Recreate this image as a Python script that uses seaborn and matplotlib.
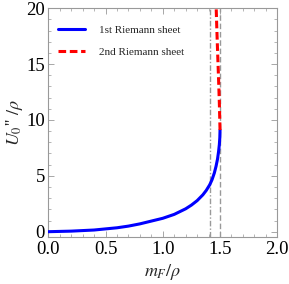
import numpy as np
import pandas as pd
import matplotlib
matplotlib.use("Agg")
import matplotlib.pyplot as plt
import seaborn as sns
from matplotlib.ticker import MultipleLocator

# data
x_first = [0.0, 0.2, 0.4, 0.6, 0.7, 0.8, 0.9, 1.0, 1.1, 1.2, 1.25, 1.3, 1.35, 1.38, 1.41,
           1.43, 1.45, 1.465, 1.478, 1.487, 1.494, 1.498, 1.5]
y_first = [0.0, 0.05, 0.15, 0.35, 0.5, 0.7, 0.95, 1.2, 1.55, 2.05, 2.38, 2.78, 3.3, 3.7, 4.2,
           4.65, 5.25, 5.85, 6.5, 7.15, 7.8, 8.4, 9.1]
x_second = [1.5, 1.497, 1.494, 1.49, 1.485, 1.478, 1.47, 1.465]
y_second = [9.1, 10.3, 11.5, 12.8, 14.3, 16.3, 18.8, 20.5]
vline_dashdot = np.sqrt(2)
vline_dashed = 1.5
labels = ["1st Riemann sheet", "2nd Riemann sheet"]

sns.set_style("ticks")
plt.rcParams["font.family"] = ["Liberation Serif", "DejaVu Serif"]
plt.rcParams["mathtext.fontset"] = "stix"

fig = plt.figure(figsize=(2.89, 2.84), dpi=100)
ax = fig.add_axes([0.167, 0.1645, 0.7925, 0.8065])

df1 = pd.DataFrame({"x": x_first, "y": y_first})
df2 = pd.DataFrame({"x": x_second, "y": y_second})

ax.axvline(vline_dashdot, color="#999999", lw=1.0, ls=(0, (4, 1.5, 1, 1.5)), zorder=1)
ax.axvline(vline_dashed, color="#999999", lw=1.0, ls=(0, (4, 2)), zorder=1)
sns.lineplot(data=df1, x="x", y="y", ax=ax, color="#0000ff", lw=2.2, sort=False,
             label=labels[0], zorder=3)
sns.lineplot(data=df2, x="x", y="y", ax=ax, color="#ff0000", lw=2.2, sort=False,
             label=labels[1], zorder=3)
ax.lines[-1].set_dashes((2.5, 1.2))

ax.set_xlim(0, 2)
ax.set_ylim(-0.5, 20)
ax.xaxis.set_minor_locator(MultipleLocator(0.1))
ax.yaxis.set_minor_locator(MultipleLocator(1))
ax.set_xticks([0, 0.5, 1.0, 1.5, 2.0])
ax.set_xticklabels(["0.0", "0.5", "1.0", "1.5", "2.0"])
ax.set_yticks([0, 5, 10, 15, 20])
ax.set_yticklabels(["0", "5", "10", "15", "20"])

for s in ax.spines.values():
    s.set_color("#999999")
    s.set_linewidth(0.8)
ax.tick_params(which="both", direction="in", top=True, right=True, colors="#999999",
               labelcolor="black", labelsize=13.5)
ax.tick_params(which="major", length=4, width=0.6, pad=2.5)
ax.tick_params(which="minor", length=2, width=0.5)

ax.set_xlabel(r"$m_F/\rho$", fontsize=13, labelpad=3)
ax.set_ylabel(r"$U_0$'' $/\rho$", fontsize=13, labelpad=1)

leg = ax.legend(loc="upper left", frameon=False, fontsize=8.0, handlelength=2.4,
                handletextpad=1.3, labelspacing=1.1, bbox_to_anchor=(0.0, 0.97))

fig.savefig("out.png", dpi=100)
